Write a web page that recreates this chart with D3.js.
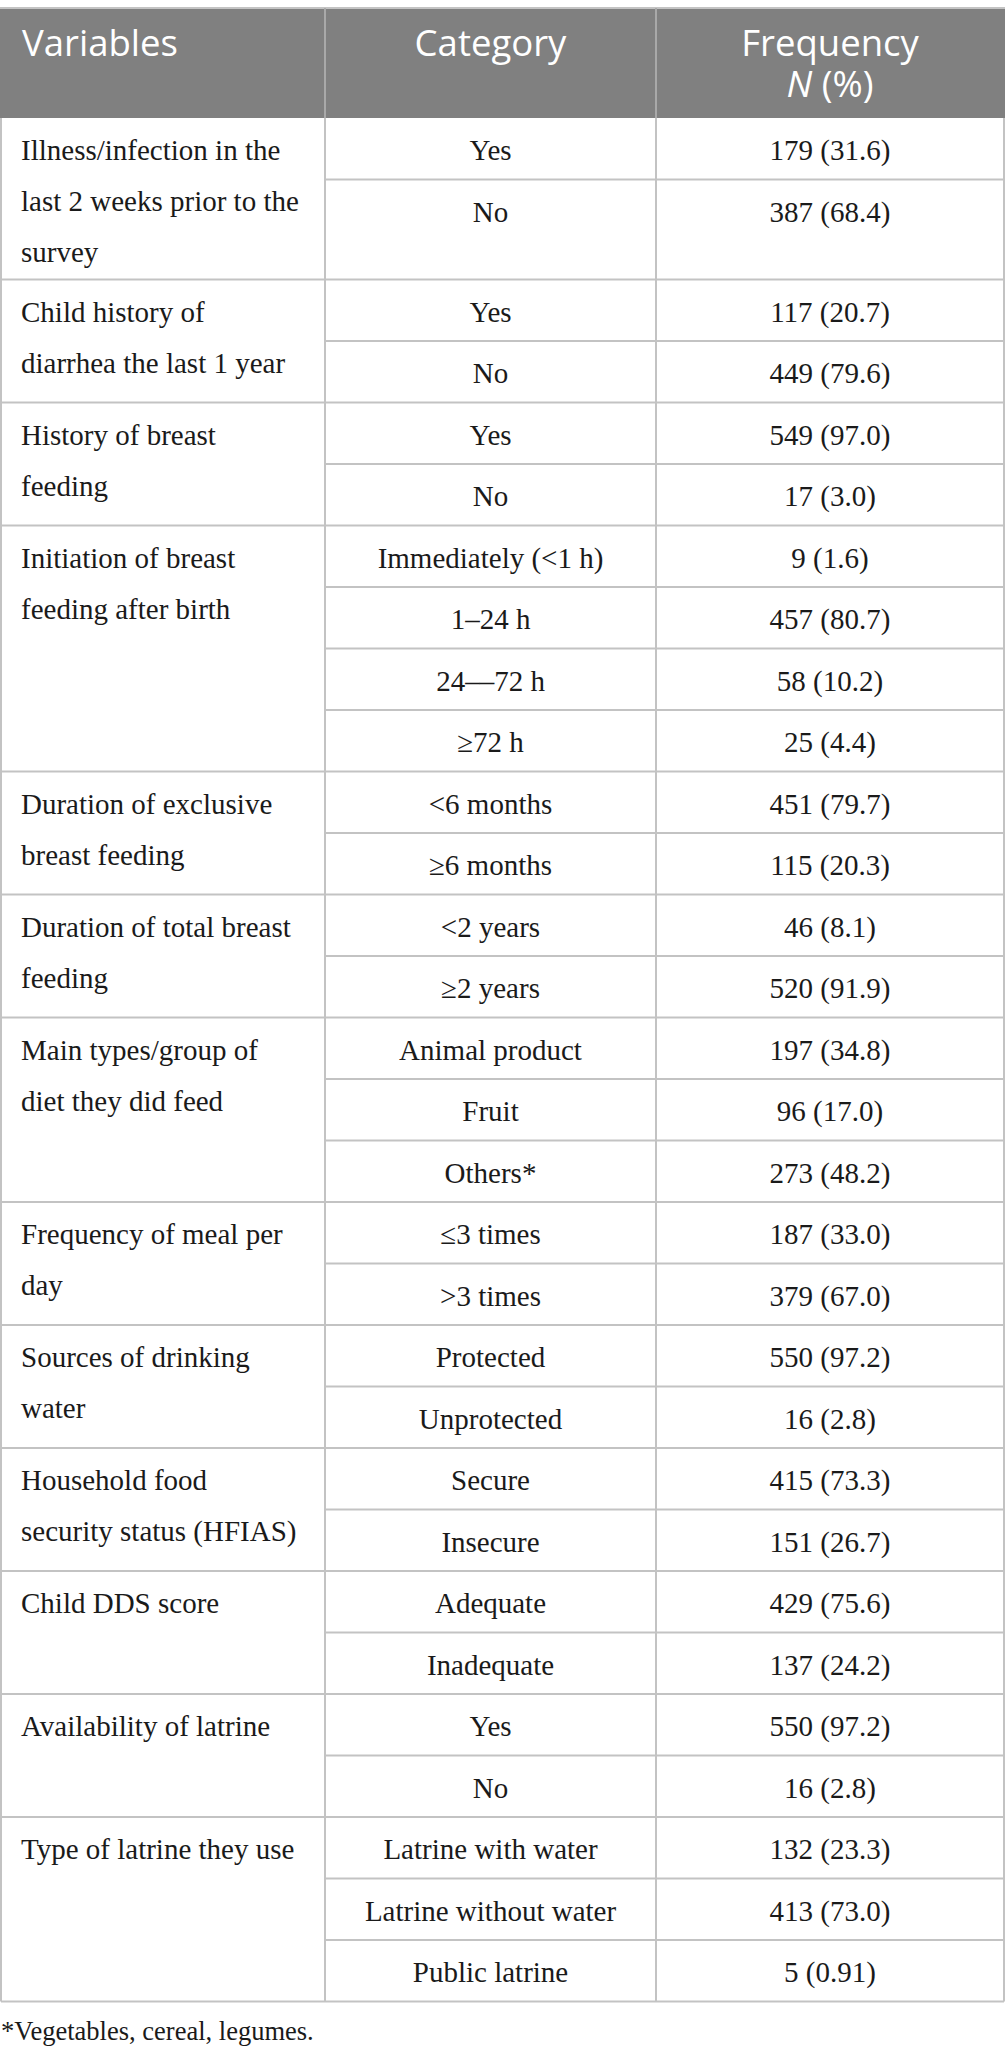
<!DOCTYPE html>
<meta charset="utf-8">
<html>
<head>
<style>
  body { margin: 0; background: #fff; }
</style>
</head>
<body>
<div id="tableContainer"></div>
<script src="https://cdn.jsdelivr.net/npm/d3@7"></script>
<script>
// table content
var headers = ["Variables", "Category", "Frequency"];

var variableLines = [
  ["Illness/infection in the", "last 2 weeks prior to the", "survey"],
  ["Child history of", "diarrhea the last 1 year"],
  ["History of breast", "feeding"],
  ["Initiation of breast", "feeding after birth"],
  ["Duration of exclusive", "breast feeding"],
  ["Duration of total breast", "feeding"],
  ["Main types/group of", "diet they did feed"],
  ["Frequency of meal per", "day"],
  ["Sources of drinking", "water"],
  ["Household food", "security status (HFIAS)"],
  ["Child DDS score"],
  ["Availability of latrine"],
  ["Type of latrine they use"]
];

var categories = [
  ["Yes", "No"],
  ["Yes", "No"],
  ["Yes", "No"],
  ["Immediately (<1 h)", "1\u201324 h", "24\u2013\u201372 h", "\u226572 h"],
  ["<6 months", "\u22656 months"],
  ["<2 years", "\u22652 years"],
  ["Animal product", "Fruit", "Others*"],
  ["\u22643 times", ">3 times"],
  ["Protected", "Unprotected"],
  ["Secure", "Insecure"],
  ["Adequate", "Inadequate"],
  ["Yes", "No"],
  ["Latrine with water", "Latrine without water", "Public latrine"]
];

var counts = [
  [179, 387], [117, 449], [549, 17], [9, 457, 58, 25], [451, 115], [46, 520],
  [197, 96, 273], [187, 379], [550, 16], [415, 151], [429, 137], [550, 16],
  [132, 413, 5]
];

var percents = [
  ["31.6", "68.4"], ["20.7", "79.6"], ["97.0", "3.0"], ["1.6", "80.7", "10.2", "4.4"],
  ["79.7", "20.3"], ["8.1", "91.9"], ["34.8", "17.0", "48.2"], ["33.0", "67.0"],
  ["97.2", "2.8"], ["73.3", "26.7"], ["75.6", "24.2"], ["97.2", "2.8"],
  ["23.3", "73.0", "0.91"]
];

var footnote = "*Vegetables, cereal, legumes.";

// layout
var W = 1005, H = 2060;
var tableTop = 8, headerBottom = 118;
var rowH = 61.5, lineH = 51, baseOff = 42, padBottom = 17.5;
var colEdges = [1, 325, 656, 1004];

var x = d3.scaleOrdinal().domain(["left", "mid1", "mid2", "right"]).range(colEdges);
var colCenter = function (i) { return (colEdges[i] + colEdges[i + 1]) / 2; };

var serif = "'Liberation Serif', 'Times New Roman', serif";
var sans = "'Open Sans', 'Noto Sans', sans-serif";
var lineColor = "#c3c3c3";

// build group/row positions
var groups = [];
var yCur = headerBottom;
variableLines.forEach(function (lines, g) {
  var n = categories[g].length;
  var h = Math.max(n * rowH, baseOff + (lines.length - 1) * lineH + padBottom);
  var rows = categories[g].map(function (c, r) {
    return {
      cat: c,
      freq: counts[g][r] + " (" + percents[g][r] + ")",
      y0: yCur + r * rowH,
      y1: r === n - 1 ? yCur + h : yCur + (r + 1) * rowH
    };
  });
  groups.push({ lines: lines, y0: yCur, y1: yCur + h, rows: rows });
  yCur += h;
});
var tableBottom = yCur;

var svg = d3.select("#tableContainer").append("svg")
  .attr("width", W)
  .attr("height", H);

// header band
svg.append("rect")
  .attr("x", x("left") - 1)
  .attr("y", tableTop)
  .attr("width", x("right") - x("left") + 2)
  .attr("height", headerBottom - tableTop)
  .attr("fill", "#808080");

svg.append("line")
  .attr("x1", 0).attr("x2", W)
  .attr("y1", tableTop).attr("y2", tableTop)
  .attr("stroke", lineColor).attr("stroke-width", 2);

svg.selectAll("line.hdiv")
  .data([x("mid1"), x("mid2")])
  .enter()
  .append("line")
    .attr("class", "hdiv")
    .attr("x1", function (d) { return d; })
    .attr("x2", function (d) { return d; })
    .attr("y1", tableTop)
    .attr("y2", headerBottom)
    .attr("stroke", "#a9a9a9")
    .attr("stroke-width", 2);

var headText = svg.append("g")
  .style("font-family", sans)
  .style("font-size", "36.5px")
  .attr("fill", "#fff");

headText.append("text").attr("x", 22).attr("y", 56).text(headers[0]);
headText.append("text").attr("x", colCenter(1)).attr("y", 56)
  .attr("text-anchor", "middle").text(headers[1]);
headText.append("text").attr("x", colCenter(2)).attr("y", 56)
  .attr("text-anchor", "middle").text(headers[2]);
var nLine = headText.append("text").attr("x", colCenter(2)).attr("y", 97)
  .attr("text-anchor", "middle");
nLine.append("tspan").style("font-style", "italic").text("N");
nLine.append("tspan").text(" (%)");

// grid lines
var grid = svg.append("g")
  .attr("stroke", lineColor)
  .attr("stroke-width", 2);

// group separators (full width)
grid.selectAll("line.gsep")
  .data(groups)
  .enter()
  .append("line")
    .attr("x1", x("left")).attr("x2", x("right"))
    .attr("y1", function (d) { return d.y1; })
    .attr("y2", function (d) { return d.y1; });

// row separators inside a group (category + frequency columns)
var innerRows = [];
groups.forEach(function (g) {
  g.rows.slice(0, -1).forEach(function (r) { innerRows.push(r.y1); });
});
grid.selectAll("line.rsep")
  .data(innerRows)
  .enter()
  .append("line")
    .attr("x1", x("mid1")).attr("x2", x("right"))
    .attr("y1", function (d) { return d; })
    .attr("y2", function (d) { return d; });

// vertical lines in body
grid.selectAll("line.vsep")
  .data(colEdges)
  .enter()
  .append("line")
    .attr("x1", function (d) { return d; })
    .attr("x2", function (d) { return d; })
    .attr("y1", headerBottom)
    .attr("y2", tableBottom);

// body text
var body = svg.append("g")
  .style("font-family", serif)
  .style("font-size", "29px")
  .attr("fill", "#1a1a1a");

var gSel = body.selectAll("g.group")
  .data(groups)
  .enter()
  .append("g");

gSel.each(function (g) {
  var sel = d3.select(this);
  sel.selectAll("text.var")
    .data(g.lines)
    .enter()
    .append("text")
      .attr("x", 21)
      .attr("y", function (d, i) { return g.y0 + baseOff + i * lineH; })
      .text(function (d) { return d; });

  sel.selectAll("text.cat")
    .data(g.rows)
    .enter()
    .append("text")
      .attr("x", colCenter(1))
      .attr("y", function (d) { return d.y0 + baseOff; })
      .attr("text-anchor", "middle")
      .text(function (d) { return d.cat; });

  sel.selectAll("text.freq")
    .data(g.rows)
    .enter()
    .append("text")
      .attr("x", colCenter(2))
      .attr("y", function (d) { return d.y0 + baseOff; })
      .attr("text-anchor", "middle")
      .text(function (d) { return d.freq; });
});

// footnote
svg.append("text")
  .attr("x", 1)
  .attr("y", tableBottom + 38)
  .style("font-family", serif)
  .style("font-size", "26.5px")
  .attr("fill", "#1a1a1a")
  .text(footnote);
</script>
</body>
</html>
